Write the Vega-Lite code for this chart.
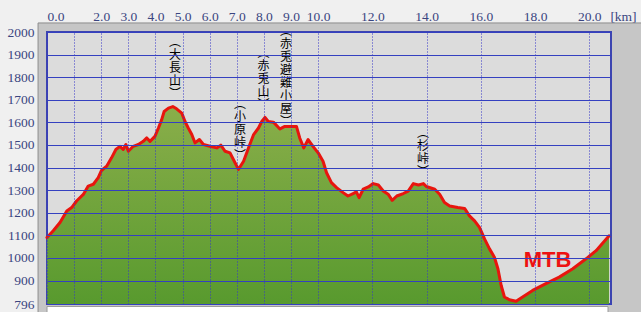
{
  "$schema": "https://vega.github.io/schema/vega-lite/v6.json",
  "width": 564,
  "height": 272,
  "autosize": {"type": "none"},
  "padding": {"left": 47, "top": 32, "right": 30, "bottom": 8},
  "background": "#f0f0f0",
  "config": {"view": {"stroke": null}},
  "layer": [
    {
      "data": {"values": [{}]},
      "mark": {"type": "rect", "fill": "#c6c6c6", "stroke": "#8c8c8c", "strokeWidth": 1},
      "encoding": {
        "x": {"datum": -0.33, "type": "quantitative"},
        "x2": {"datum": 23},
        "y": {"datum": 740, "type": "quantitative"},
        "y2": {"datum": 2040}
      }
    },
    {
      "data": {"values": [{}]},
      "mark": {"type": "rect", "fill": "#dcdcdc", "stroke": "#3c44b0", "strokeWidth": 2},
      "encoding": {
        "x": {"datum": 0, "type": "quantitative"},
        "x2": {"datum": 20.8},
        "y": {"datum": 796, "type": "quantitative"},
        "y2": {"datum": 2000}
      }
    },
    {
      "data": {"values": [{}]},
      "mark": {"type": "rect", "fill": "#ffffff", "stroke": "#9a9a9a", "strokeWidth": 1},
      "encoding": {
        "x": {"datum": 0, "type": "quantitative"},
        "x2": {"datum": 20.69},
        "y": {"datum": 740, "type": "quantitative"},
        "y2": {"datum": 785}
      }
    },
    {
      "data": {"name": "profile"},
      "mark": {
        "type": "area",
        "color": {
          "gradient": "linear", "x1": 0, "y1": 0, "x2": 0, "y2": 1,
          "stops": [{"offset": 0, "color": "#8aae4a"}, {"offset": 1, "color": "#589a2e"}]
        }
      },
      "encoding": {
        "x": {"field": "km", "type": "quantitative"},
        "y": {"field": "elev", "type": "quantitative", "stack": null},
        "y2": {"datum": 796}
      }
    },
    {
      "data": {"name": "profile"},
      "mark": {"type": "line", "color": "#e8150e", "strokeWidth": 3, "strokeJoin": "round", "strokeCap": "round"},
      "encoding": {
        "x": {
          "field": "km", "type": "quantitative",
          "scale": {"domain": [0, 20.8], "nice": false, "zero": false},
          "axis": {
            "orient": "top",
            "values": [0, 1, 2, 3, 4, 5, 6, 7, 8, 9, 10, 12, 14, 16, 18, 20],
            "tickCount": 50,
            "labelExpr": "datum.value == 1 ? '' : format(datum.value, '.1f')",
            "ticks": false, "domain": false,
            "grid": true, "gridColor": "#3535c8", "gridDash": [1, 2], "gridWidth": 1,
            "labelFont": "Liberation Serif", "labelFontSize": 13.5, "labelColor": "#3a4580",
            "labelPadding": 12, "labelBaseline": "alphabetic", "labelOverlap": false, "labelFlush": true,
            "title": "[km]", "titleX": 576, "titleY": -12, "titleAlign": "center", "titleBaseline": "alphabetic",
            "titleFont": "Liberation Serif", "titleFontSize": 13.5, "titleFontWeight": "normal", "titleColor": "#3a4580",
            "zindex": 1
          }
        },
        "y": {
          "field": "elev", "type": "quantitative",
          "scale": {"domain": [796, 2000], "nice": false, "zero": false},
          "axis": {
            "orient": "left",
            "values": [796, 900, 1000, 1100, 1200, 1300, 1400, 1500, 1600, 1700, 1800, 1900, 2000],
            "tickCount": 50,
            "format": "d",
            "ticks": false, "domain": false,
            "grid": true, "gridColor": "#3440c0", "gridWidth": 1,
            "labelFont": "Liberation Serif", "labelFontSize": 13.5, "labelColor": "#3a4580",
            "labelPadding": 13, "labelOverlap": false, "labelFlush": false,
            "title": null, "zindex": 1
          }
        }
      }
    },
    {
      "data": {"name": "peaks"},
      "mark": {"type": "text", "font": "Noto Sans CJK JP", "fontSize": 12, "lineHeight": 13, "baseline": "top", "align": "center", "lineBreak": "\n", "color": "#000000"},
      "encoding": {
        "x": {"field": "km", "type": "quantitative"},
        "y": {"field": "elev", "type": "quantitative"},
        "text": {"field": "label"}
      }
    },
    {
      "data": {"values": [{"km": 18.46, "elev": 991, "label": "MTB"}]},
      "mark": {"type": "text", "font": "Liberation Sans", "fontSize": 22, "fontWeight": "bold", "baseline": "middle", "align": "center", "color": "#ee1111"},
      "encoding": {
        "x": {"field": "km", "type": "quantitative"},
        "y": {"field": "elev", "type": "quantitative"},
        "text": {"field": "label"}
      }
    }
  ],
  "datasets": {
    "peaks": [
      {"km": 4.72, "elev": 1978, "label": "︵\n大\n長\n山\n︶"},
      {"km": 7.98, "elev": 1929, "label": "︵\n赤\n兎\n山\n︶"},
      {"km": 8.81, "elev": 2026, "label": "︵\n赤\n兎\n避\n難\n小\n屋\n︶"},
      {"km": 7.12, "elev": 1703, "label": "︵\n小\n原\n峠\n︶"},
      {"km": 13.87, "elev": 1575, "label": "︵\n杉\n峠\n︶"}
    ],
    "profile": [
      {"km": 0.0, "elev": 1090}, {"km": 0.23, "elev": 1120}, {"km": 0.48, "elev": 1157}, {"km": 0.73, "elev": 1208},
      {"km": 0.91, "elev": 1223}, {"km": 1.09, "elev": 1252}, {"km": 1.34, "elev": 1281}, {"km": 1.52, "elev": 1318},
      {"km": 1.71, "elev": 1326}, {"km": 1.89, "elev": 1355}, {"km": 2.01, "elev": 1387}, {"km": 2.2, "elev": 1406},
      {"km": 2.38, "elev": 1443}, {"km": 2.54, "elev": 1480}, {"km": 2.69, "elev": 1494}, {"km": 2.81, "elev": 1480},
      {"km": 2.91, "elev": 1502}, {"km": 3.0, "elev": 1472}, {"km": 3.18, "elev": 1494}, {"km": 3.37, "elev": 1502},
      {"km": 3.55, "elev": 1516}, {"km": 3.68, "elev": 1531}, {"km": 3.8, "elev": 1516}, {"km": 3.98, "elev": 1538},
      {"km": 4.11, "elev": 1575}, {"km": 4.23, "elev": 1612}, {"km": 4.32, "elev": 1648}, {"km": 4.48, "elev": 1663},
      {"km": 4.64, "elev": 1670}, {"km": 4.78, "elev": 1660}, {"km": 4.97, "elev": 1641}, {"km": 5.09, "elev": 1604},
      {"km": 5.21, "elev": 1575}, {"km": 5.34, "elev": 1546}, {"km": 5.46, "elev": 1509}, {"km": 5.62, "elev": 1524},
      {"km": 5.77, "elev": 1502}, {"km": 6.01, "elev": 1494}, {"km": 6.26, "elev": 1487}, {"km": 6.41, "elev": 1499},
      {"km": 6.57, "elev": 1472}, {"km": 6.75, "elev": 1465}, {"km": 6.94, "elev": 1420}, {"km": 7.06, "elev": 1392},
      {"km": 7.25, "elev": 1428}, {"km": 7.43, "elev": 1487}, {"km": 7.62, "elev": 1546}, {"km": 7.8, "elev": 1575},
      {"km": 7.92, "elev": 1604}, {"km": 8.04, "elev": 1622}, {"km": 8.16, "elev": 1604}, {"km": 8.35, "elev": 1601},
      {"km": 8.59, "elev": 1571}, {"km": 8.77, "elev": 1582}, {"km": 9.02, "elev": 1582}, {"km": 9.2, "elev": 1582},
      {"km": 9.32, "elev": 1531}, {"km": 9.47, "elev": 1487}, {"km": 9.63, "elev": 1524}, {"km": 9.81, "elev": 1494},
      {"km": 10.0, "elev": 1465}, {"km": 10.18, "elev": 1428}, {"km": 10.31, "elev": 1377}, {"km": 10.49, "elev": 1333},
      {"km": 10.68, "elev": 1311}, {"km": 10.92, "elev": 1289}, {"km": 11.1, "elev": 1274}, {"km": 11.29, "elev": 1285},
      {"km": 11.41, "elev": 1292}, {"km": 11.51, "elev": 1267}, {"km": 11.66, "elev": 1304}, {"km": 11.85, "elev": 1314},
      {"km": 12.03, "elev": 1329}, {"km": 12.22, "elev": 1323}, {"km": 12.4, "elev": 1296}, {"km": 12.58, "elev": 1282},
      {"km": 12.73, "elev": 1255}, {"km": 12.9, "elev": 1274}, {"km": 13.14, "elev": 1285}, {"km": 13.32, "elev": 1296},
      {"km": 13.51, "elev": 1329}, {"km": 13.7, "elev": 1323}, {"km": 13.88, "elev": 1329}, {"km": 13.99, "elev": 1316},
      {"km": 14.3, "elev": 1304}, {"km": 14.48, "elev": 1282}, {"km": 14.66, "elev": 1245}, {"km": 14.85, "elev": 1230},
      {"km": 15.15, "elev": 1223}, {"km": 15.4, "elev": 1219}, {"km": 15.58, "elev": 1186}, {"km": 15.77, "elev": 1164},
      {"km": 15.95, "elev": 1135}, {"km": 16.14, "elev": 1083}, {"km": 16.32, "elev": 1040}, {"km": 16.5, "elev": 1003},
      {"km": 16.63, "elev": 952}, {"km": 16.75, "elev": 878}, {"km": 16.87, "elev": 827}, {"km": 17.05, "elev": 815},
      {"km": 17.3, "elev": 808}, {"km": 17.54, "elev": 827}, {"km": 17.91, "elev": 856}, {"km": 18.4, "elev": 886},
      {"km": 18.89, "elev": 915}, {"km": 19.39, "elev": 952}, {"km": 19.88, "elev": 996}, {"km": 20.25, "elev": 1032},
      {"km": 20.73, "elev": 1098}
    ]
  }
}
